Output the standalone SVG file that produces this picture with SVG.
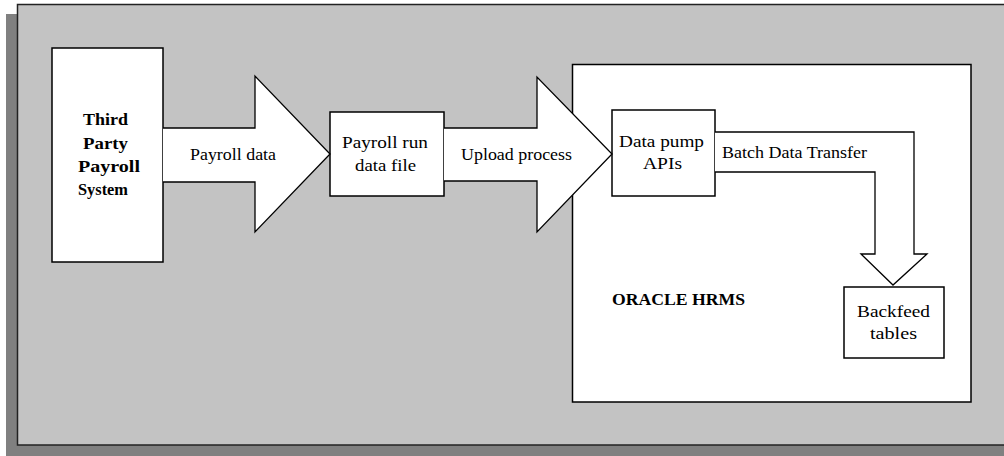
<svg xmlns="http://www.w3.org/2000/svg" width="1004" height="456" viewBox="0 0 1004 456">
<style>
.box{fill:#ffffff;stroke:#000000;stroke-width:1.5}
.arr{fill:#ffffff;stroke:#000000;stroke-width:1.3;stroke-linejoin:miter}
text{fill:#000000;font-size:17px}
.b{font-weight:bold}
</style>
<rect x="0" y="0" width="1004" height="456" fill="#ffffff"/>
<g id="frame">
<rect x="6" y="14" width="1010" height="442" fill="#808080"/>
<rect x="17.5" y="4.5" width="1000" height="440.5" fill="#c3c3c3" stroke="#222222" stroke-width="1.5"/>
</g>
<g font-family="'Liberation Serif', 'DejaVu Serif', serif" lengthAdjust="spacingAndGlyphs">
<g id="oracle">
<rect class="box" x="572.5" y="64.5" width="398.5" height="337.5"/>
<text class="b" x="612" y="305" textLength="133" lengthAdjust="spacingAndGlyphs">ORACLE HRMS</text>
</g>
<g id="third-party">
<rect class="box" x="52" y="48" width="111" height="214"/>
<text class="b" x="83" y="125" textLength="45" lengthAdjust="spacingAndGlyphs">Third</text>
<text class="b" x="83" y="149" textLength="45" lengthAdjust="spacingAndGlyphs">Party</text>
<text class="b" x="78" y="172" textLength="62" lengthAdjust="spacingAndGlyphs">Payroll</text>
<text class="b" x="78" y="195" textLength="50" lengthAdjust="spacingAndGlyphs">System</text>
</g>
<g id="payroll-run">
<rect class="box" x="330" y="112" width="114" height="84"/>
<text x="342" y="148" textLength="86" lengthAdjust="spacingAndGlyphs">Payroll run</text>
<text x="355" y="171" textLength="61" lengthAdjust="spacingAndGlyphs">data file</text>
</g>
<g id="data-pump">
<rect class="box" x="612" y="110" width="103" height="86"/>
<text x="619" y="147" textLength="85" lengthAdjust="spacingAndGlyphs">Data pump</text>
<text x="643" y="169" textLength="39" lengthAdjust="spacingAndGlyphs">APIs</text>
</g>
<g id="backfeed">
<rect class="box" x="844" y="287" width="100" height="71"/>
<text x="857" y="317" textLength="73" lengthAdjust="spacingAndGlyphs">Backfeed</text>
<text x="870" y="339" textLength="47" lengthAdjust="spacingAndGlyphs">tables</text>
</g>
<g id="connectors">
<polygon points="163,128 255,128 255,76 330,154 255,232 255,182 163,182" fill="#ffffff"/>
<polyline class="arr" points="163,128 255,128 255,76 330,154 255,232 255,182 163,182"/>
<text x="190" y="160" textLength="86" lengthAdjust="spacingAndGlyphs">Payroll data</text>
<polygon points="444,128 537,128 537,77 612,154 537,232 537,181 444,181" fill="#ffffff"/>
<polyline class="arr" points="444,128 537,128 537,77 612,154 537,232 537,181 444,181"/>
<text x="461" y="160" textLength="111" lengthAdjust="spacingAndGlyphs">Upload process</text>
<polyline class="arr" points="715,132 914,132 914,254 927,254 893,285 861,254 875,254 875,172 715,172"/>
<text x="722" y="158" textLength="145" lengthAdjust="spacingAndGlyphs">Batch Data Transfer</text>
</g>
</g>
</svg>
